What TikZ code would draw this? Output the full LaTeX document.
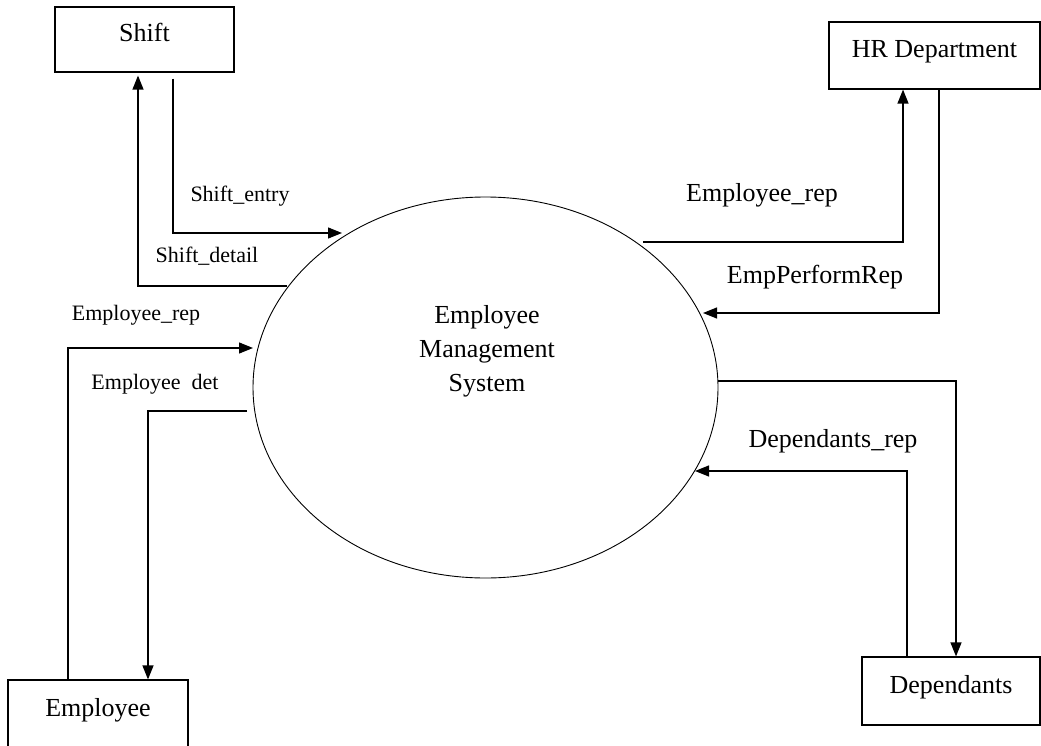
\documentclass[tikz,border=0pt]{standalone}
\usepackage{fontspec}
\setmainfont{Liberation Serif}
\usetikzlibrary{arrows.meta,shapes.geometric}
\begin{document}
\begin{tikzpicture}[x=1pt,y=-1pt,
    entity/.style={draw,line width=1.2pt,inner sep=0pt,
      font=\fontsize{26}{30}\selectfont,text height=18pt,text depth=13pt},
    flowlabel/.style={anchor=base,inner sep=0pt,font=\fontsize{26}{30}\selectfont},
    smalllabel/.style={anchor=base,inner sep=0pt,font=\fontsize{22}{26}\selectfont},
    flow/.style={line width=1.2pt,-{Triangle[length=14pt,width=11pt]}}]
  \useasboundingbox (0,0) rectangle (1041,746);
  % entities and process
  \node[entity,minimum width=179pt,minimum height=65pt] (shift) at (144.5,39.5) {Shift};
  \node[entity,minimum width=211pt,minimum height=67pt] (hr) at (934.5,55.5) {HR Department};
  \node[entity,minimum width=180pt,minimum height=68pt] (emp) at (98,714) {Employee};
  \node[entity,minimum width=178pt,minimum height=68pt] (dep) at (951,691) {Dependants};
  \node[ellipse,draw,line width=0.9pt,minimum width=465pt,minimum height=381pt] (sys) at (485.5,387.5) {};
  \node[align=center,font=\fontsize{26}{34}\selectfont] (sysname) at (487,351) {Employee\\Management\\System};
  % ends at the process
  \coordinate (in1) at (342,233);
  \coordinate (out2) at (287,286);
  \coordinate (in3) at (253,348);
  \coordinate (out4) at (247,411);
  \coordinate (out5) at (643,242);
  \coordinate (in6) at (703,313);
  \coordinate (out7) at (718,381);
  \coordinate (in8) at (695,471);
  \begin{scope}[flow]
    \draw ([xshift=28.5pt,yshift=-6pt]shift.south) |- (in1);
    \draw (out2) -| ([xshift=-6.5pt,yshift=-3pt]shift.south);
    \draw ([xshift=-30pt]emp.north) |- (in3);
    \draw (out4) -| ([xshift=50pt]emp.north);
    \draw (out5) -| ([xshift=-31.5pt]hr.south);
    \draw ([xshift=4.5pt]hr.south) |- (in6);
    \draw (out7) -| ([xshift=5pt]dep.north);
    \draw ([xshift=-44pt]dep.north) |- (in8);
  \end{scope}
  % labels
  \node[smalllabel] (l1) at (240,202) {Shift\_entry};
  \node[smalllabel] (l2) at (207,262) {Shift\_detail};
  \node[smalllabel] (l3) at (136,320) {Employee\_rep};
  \node[smalllabel] (l4) at (155,389) {Employee~~det};
  \node[flowlabel] (l5) at (762,202) {Employee\_rep};
  \node[flowlabel] (l6) at (815,283) {EmpPerformRep};
  \node[flowlabel] (l8) at (833,447) {Dependants\_rep};
\end{tikzpicture}
\end{document}
